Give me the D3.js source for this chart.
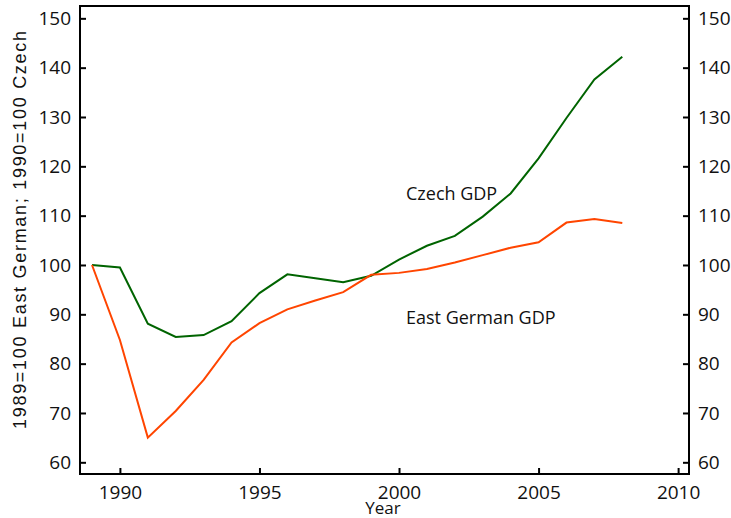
<!DOCTYPE html>
<html>
<head>
<meta charset="utf-8">
<script src="https://cdn.jsdelivr.net/npm/d3@7"></script>
<style>
    body { margin: 0; background: #fff; }
    svg text { font-family: "Open Sans", "DejaVu Sans", sans-serif; fill: #111; }
</style>
</head>
<body>
<div id="chart"></div>
<script>

// years on the x axis
var years = [1989, 1990, 1991, 1992, 1993, 1994, 1995, 1996, 1997, 1998,
    1999, 2000, 2001, 2002, 2003, 2004, 2005, 2006, 2007, 2008];

// Czech GDP, 1990 = 100
var czechGdp = [100.0, 99.5, 88.1, 85.4, 85.8, 88.6, 94.3, 98.1, 97.3, 96.5,
    97.8, 101.1, 103.9, 105.9, 109.8, 114.5, 121.6, 129.8, 137.6, 142.2];

// East German GDP, 1989 = 100
var eastGermanGdp = [100.0, 84.8, 65.0, 70.4, 76.7, 84.3, 88.2, 91.0, 92.8, 94.5,
    98.0, 98.4, 99.2, 100.5, 102.0, 103.5, 104.6, 108.6, 109.3, 108.5];

var xTicks = [1990, 1995, 2000, 2005, 2010];
var yTicks = [60, 70, 80, 90, 100, 110, 120, 130, 140, 150];

var width = 731;
var height = 518;
var margin = { left: 80, top: 6, right: 42, bottom: 44 };

var svg = d3.select('#chart')
    .append('svg')
    .attr('width', width)
    .attr('height', height);

var x = d3.scaleLinear()
    .domain([1988.57, 2010.39])
    .range([margin.left, width - margin.right]);

var y = d3.scaleLinear()
    .domain([57.63, 152.5])
    .range([height - margin.bottom, margin.top]);

// frame
svg.append('rect')
    .attr('x', margin.left)
    .attr('y', margin.top)
    .attr('width', width - margin.right - margin.left)
    .attr('height', height - margin.bottom - margin.top)
    .style('fill', 'none')
    .style('stroke', '#000')
    .style('stroke-width', 2);

var xAxis = svg.append('g')
    .attr('transform', 'translate(0,' + (height - margin.bottom) + ')')
    .call(d3.axisBottom(x).tickValues(xTicks).tickFormat(d3.format('d'))
        .tickSizeInner(-6).tickSizeOuter(0).tickPadding(12));

var yLeft = svg.append('g')
    .attr('transform', 'translate(' + margin.left + ',0)')
    .call(d3.axisLeft(y).tickValues(yTicks)
        .tickSizeInner(-6).tickSizeOuter(0).tickPadding(9));

var yRight = svg.append('g')
    .attr('transform', 'translate(' + (width - margin.right) + ',0)')
    .call(d3.axisRight(y).tickValues(yTicks)
        .tickSizeInner(-6).tickSizeOuter(0).tickPadding(9));

[xAxis, yLeft, yRight].forEach(function(g) {
    g.select('.domain').remove();
    g.selectAll('line').style('stroke', '#000').style('stroke-width', 2);
    g.selectAll('text').style('font-size', '19px').style('font-family', null);
});

var line = d3.line()
    .x(d => x(d.year))
    .y(d => y(d.value));

var series = [
    { name: 'czech', color: '#006400', values: czechGdp },
    { name: 'east', color: '#ff4500', values: eastGermanGdp }
];

svg.selectAll('path.series')
    .data(series)
    .enter()
    .append('path')
    .attr('class', 'series')
    .attr('d', s => line(s.values.map((v, i) => ({ year: years[i], value: v }))))
    .style('fill', 'none')
    .style('stroke', s => s.color)
    .style('stroke-width', 2);

svg.append('text')
    .attr('x', 406)
    .attr('y', 200)
    .style('font-size', '18px')
    .text('Czech GDP');

svg.append('text')
    .attr('x', 406)
    .attr('y', 324)
    .style('font-size', '18px')
    .text('East German GDP');

svg.append('text')
    .attr('x', 383)
    .attr('y', 514)
    .attr('text-anchor', 'middle')
    .style('font-size', '17px')
    .text('Year');

svg.append('text')
    .attr('transform', 'translate(26,230) rotate(-90)')
    .attr('text-anchor', 'middle')
    .attr('textLength', 398)
    .attr('lengthAdjust', 'spacing')
    .style('font-family', '"Liberation Sans", Arial, sans-serif')
    .style('font-size', '18px')
    .text('1989=100 East German; 1990=100 Czech');

</script>
</body>
</html>
